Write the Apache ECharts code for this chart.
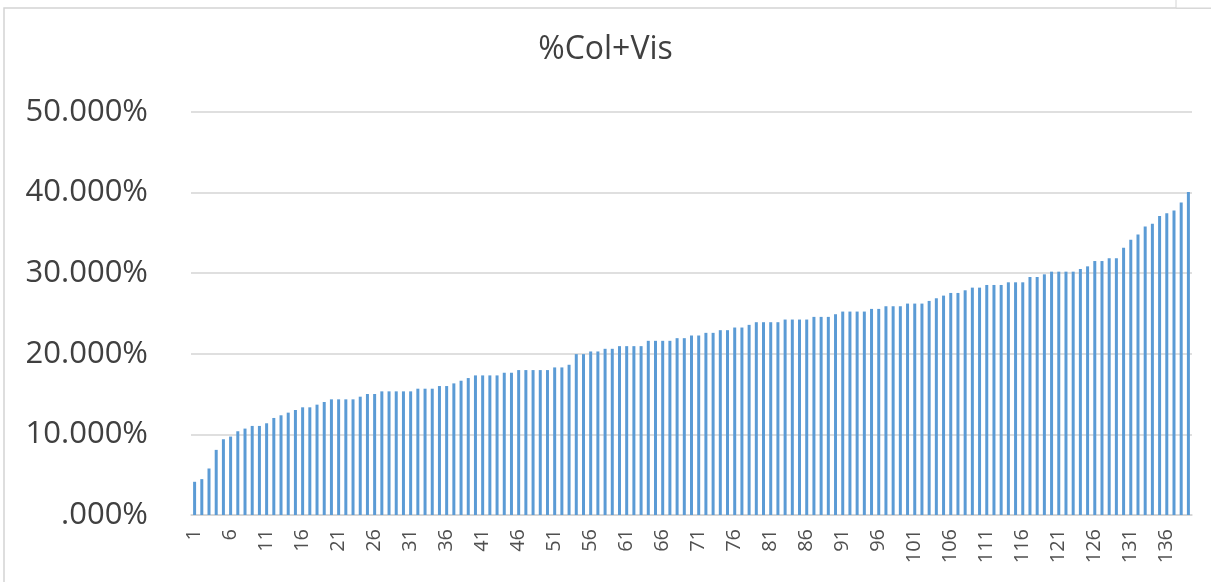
<!DOCTYPE html>
<html>
<head>
<meta charset="utf-8">
<script src="https://cdn.jsdelivr.net/npm/echarts@6/dist/echarts.min.js"></script>
<style>
  html, body { margin: 0; padding: 0; background: #fff; }
  #chart { width: 1211px; height: 582px; }
</style>
</head>
<body>
<div id="chart"></div>
<script>
// %Col+Vis, 139 sorted values (percent)
const chartTitle = '%Col+Vis'
const values = [
  4.12, 4.45, 5.77, 8.08, 9.40, 9.73, 10.39, 10.72, 11.05, 11.05,
  11.38, 12.04, 12.37, 12.70, 13.03, 13.36, 13.36, 13.69, 14.02, 14.35,
  14.35, 14.35, 14.35, 14.68, 15.01, 15.01, 15.34, 15.34, 15.34, 15.34,
  15.34, 15.67, 15.67, 15.67, 16.00, 16.00, 16.33, 16.66, 16.99, 17.32,
  17.32, 17.32, 17.32, 17.65, 17.65, 17.98, 17.98, 17.98, 17.98, 17.98,
  18.31, 18.31, 18.64, 19.96, 19.96, 20.29, 20.29, 20.62, 20.62, 20.95,
  20.95, 20.95, 20.95, 21.61, 21.61, 21.61, 21.61, 21.94, 21.94, 22.27,
  22.27, 22.60, 22.60, 22.93, 22.93, 23.26, 23.26, 23.59, 23.92, 23.92,
  23.92, 23.92, 24.25, 24.25, 24.25, 24.25, 24.58, 24.58, 24.58, 24.91,
  25.24, 25.24, 25.24, 25.24, 25.57, 25.57, 25.90, 25.90, 25.90, 26.23,
  26.23, 26.23, 26.56, 26.89, 27.22, 27.55, 27.55, 27.88, 28.21, 28.21,
  28.54, 28.54, 28.54, 28.87, 28.87, 28.87, 29.53, 29.53, 29.86, 30.19,
  30.19, 30.19, 30.19, 30.52, 30.85, 31.51, 31.51, 31.84, 31.84, 33.15,
  34.14, 34.80, 35.79, 36.12, 37.11, 37.44, 37.77, 38.76, 40.08
]
const categories = values.map((_, i) => String(i + 1))
const yTicks = [0, 10, 20, 30, 40, 50]

const fmtPct = v => (v === 0 ? '' : String(v)) + '.000%'

const chart = echarts.init(document.getElementById('chart'), null, { renderer: 'canvas' })

chart.setOption({
  animation: false,
  textStyle: { fontFamily: 'Open Sans' },
  graphic: [
    { type: 'rect', shape: { x: 4, y: 8, width: 1300, height: 700 }, style: { fill: 'none', stroke: '#d4d4d4', lineWidth: 1.5 } },
    { type: 'rect', shape: { x: 1176, y: -4, width: 40, height: 12 }, style: { fill: '#fff', stroke: '#d4d4d4', lineWidth: 1 } }
  ],
  title: {
    text: chartTitle,
    left: 'center',
    top: 29,
    textStyle: { fontSize: 32, fontWeight: 'normal', color: '#404040', fontFamily: 'Open Sans' }
  },
  grid: { left: 191, right: 19, top: 112, bottom: 67 },
  xAxis: {
    type: 'category',
    data: categories,
    axisLine: { lineStyle: { color: '#d4d4d4', width: 1.5 } },
    axisTick: { show: false },
    axisLabel: {
      interval: 4,
      rotate: 90,
      margin: 14,
      fontSize: 20,
      color: '#505050'
    }
  },
  yAxis: {
    type: 'value',
    min: yTicks[0],
    max: yTicks[yTicks.length - 1],
    interval: 10,
    axisLine: { show: false },
    axisTick: { show: false },
    axisLabel: {
      formatter: fmtPct,
      margin: 43,
      fontSize: 31,
      color: '#404040'
    },
    splitLine: { lineStyle: { color: '#d4d4d4', width: 1.5 } }
  },
  series: [
    {
      type: 'bar',
      data: values,
      barWidth: 3,
      itemStyle: { color: '#5b9bd5' }
    }
  ]
})
</script>
</body>
</html>
